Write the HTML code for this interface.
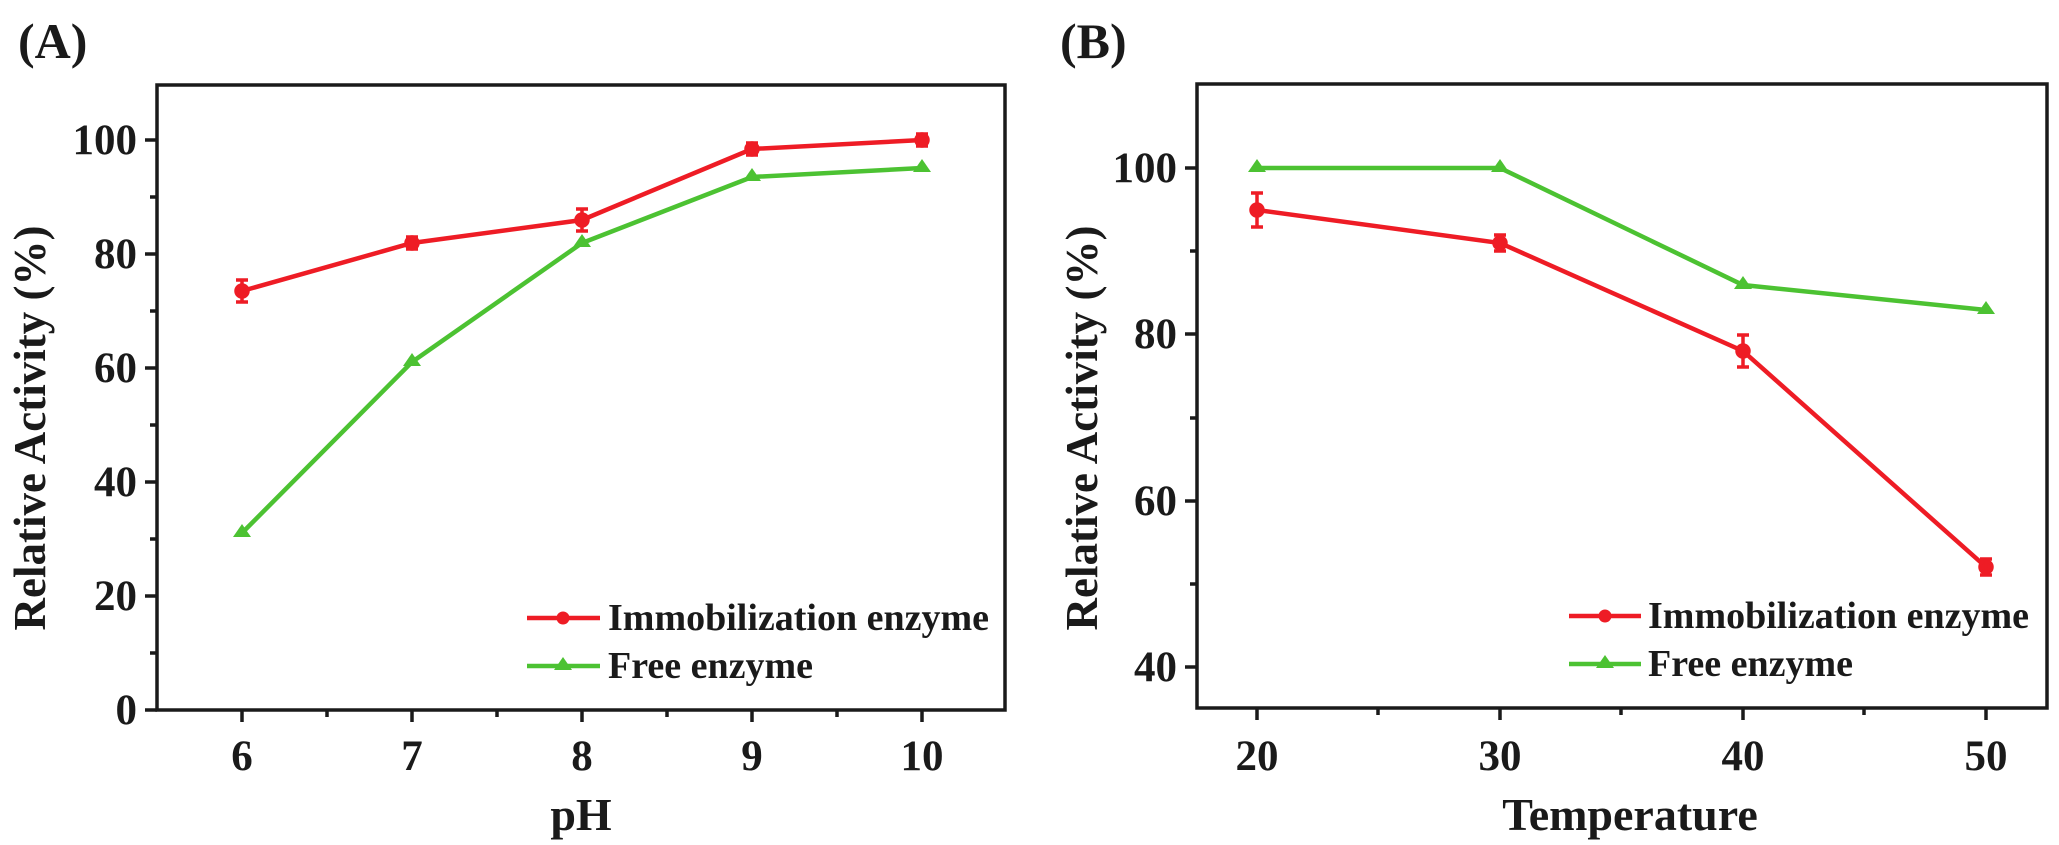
<!DOCTYPE html>
<html><head><meta charset="utf-8"><style>
html,body{margin:0;padding:0;background:#fff;}
svg text{font-family:"Liberation Serif",serif;font-weight:bold;fill:#1a1a1a;}
</style></head><body>
<svg width="2059" height="840" viewBox="0 0 2059 840" xmlns="http://www.w3.org/2000/svg">
<!-- Panel A -->
<text x="18" y="58" font-size="50">(A)</text>
<g stroke="#1a1a1a" stroke-width="3.5" fill="none">
<rect x="157" y="85" width="848" height="625"/>
<path d="M145 710H157M145 596H157M145 482H157M145 368H157M145 254H157M145 140H157"/>
<path d="M150 653H157M150 539H157M150 425H157M150 311H157M150 197H157"/>
<path d="M242 710V722M412 710V722M582 710V722M752 710V722M922 710V722"/>
<path d="M327 710V717M497 710V717M667 710V717M837 710V717"/>
</g>
<g font-size="43" text-anchor="end">
<text x="137" y="724">0</text><text x="137" y="610">20</text><text x="137" y="496">40</text><text x="137" y="382">60</text><text x="137" y="268">80</text><text x="137" y="154">100</text>
</g>
<g font-size="43" text-anchor="middle">
<text x="242" y="770">6</text><text x="412" y="770">7</text><text x="582" y="770">8</text><text x="752" y="770">9</text><text x="922" y="770">10</text>
<text x="581" y="830" font-size="46">pH</text>
</g>
<text transform="translate(45,428) rotate(-90)" font-size="45" text-anchor="middle">Relative Activity (%)</text>
<polyline fill="none" stroke="#4cc232" stroke-width="4.5" points="242,533 412,362 582,243 752,177 922,168"/>
<g fill="#4cc232">
<path d="M242,524l-9,13h18z"/><path d="M412,353l-9,13h18z"/><path d="M582,234l-9,13h18z"/><path d="M752,168l-9,13h18z"/><path d="M922,159l-9,13h18z"/>
</g>
<polyline fill="none" stroke="#ee1c25" stroke-width="4.5" points="242,291 412,243 582,220 752,149 922,140"/>
<g fill="#ee1c25" stroke="#ee1c25" stroke-width="3.5">
<circle cx="242" cy="291" r="6"/><path d="M242 280V302M236 280H248M236 302H248"/>
<circle cx="412" cy="243" r="6"/><path d="M412 237V249M406 237H418M406 249H418"/>
<circle cx="582" cy="220" r="6"/><path d="M582 209V231M576 209H588M576 231H588"/>
<circle cx="752" cy="149" r="6"/><path d="M752 143V155M746 143H758M746 155H758"/>
<circle cx="922" cy="140" r="6"/><path d="M922 134V146M916 134H928M916 146H928"/>
</g>
<path d="M527 618H600" stroke="#ee1c25" stroke-width="4.5"/><circle cx="563" cy="618" r="6.5" fill="#ee1c25"/>
<path d="M527 666H600" stroke="#4cc232" stroke-width="4.5"/><path d="M563,657l-9,13h18z" fill="#4cc232"/>
<text x="608" y="630" font-size="38">Immobilization enzyme</text>
<text x="608" y="678" font-size="38">Free enzyme</text>

<!-- Panel B -->
<text x="1060" y="58" font-size="50">(B)</text>
<g stroke="#1a1a1a" stroke-width="3.5" fill="none">
<rect x="1197" y="84" width="850" height="624"/>
<path d="M1185 667H1197M1185 501H1197M1185 334H1197M1185 168H1197"/>
<path d="M1190 584H1197M1190 418H1197M1190 251H1197"/>
<path d="M1257 708V720M1500 708V720M1743 708V720M1986 708V720"/>
<path d="M1378 708V715M1621 708V715M1864 708V715"/>
</g>
<g font-size="43" text-anchor="end">
<text x="1177" y="681">40</text><text x="1177" y="515">60</text><text x="1177" y="348">80</text><text x="1177" y="182">100</text>
</g>
<g font-size="43" text-anchor="middle">
<text x="1257" y="770">20</text><text x="1500" y="770">30</text><text x="1743" y="770">40</text><text x="1986" y="770">50</text>
<text x="1630" y="830" font-size="46">Temperature</text>
</g>
<text transform="translate(1097,428) rotate(-90)" font-size="45" text-anchor="middle">Relative Activity (%)</text>
<polyline fill="none" stroke="#4cc232" stroke-width="4.5" points="1257,168 1500,168 1743,285 1986,310"/>
<g fill="#4cc232">
<path d="M1257,159l-9,13h18z"/><path d="M1500,159l-9,13h18z"/><path d="M1743,276l-9,13h18z"/><path d="M1986,301l-9,13h18z"/>
</g>
<polyline fill="none" stroke="#ee1c25" stroke-width="4.5" points="1257,210 1500,243 1743,351 1986,567"/>
<g fill="#ee1c25" stroke="#ee1c25" stroke-width="3.5">
<circle cx="1257" cy="210" r="6"/><path d="M1257 193V227M1251 193H1263M1251 227H1263"/>
<circle cx="1500" cy="243" r="6"/><path d="M1500 235V251M1494 235H1506M1494 251H1506"/>
<circle cx="1743" cy="351" r="6"/><path d="M1743 335V367M1737 335H1749M1737 367H1749"/>
<circle cx="1986" cy="567" r="6"/><path d="M1986 559V575M1980 559H1992M1980 575H1992"/>
</g>
<path d="M1569 616H1641" stroke="#ee1c25" stroke-width="4.5"/><circle cx="1605" cy="616" r="6.5" fill="#ee1c25"/>
<path d="M1569 664H1641" stroke="#4cc232" stroke-width="4.5"/><path d="M1605,655l-9,13h18z" fill="#4cc232"/>
<text x="1648" y="628" font-size="38">Immobilization enzyme</text>
<text x="1648" y="676" font-size="38">Free enzyme</text>
</svg>
</body></html>
